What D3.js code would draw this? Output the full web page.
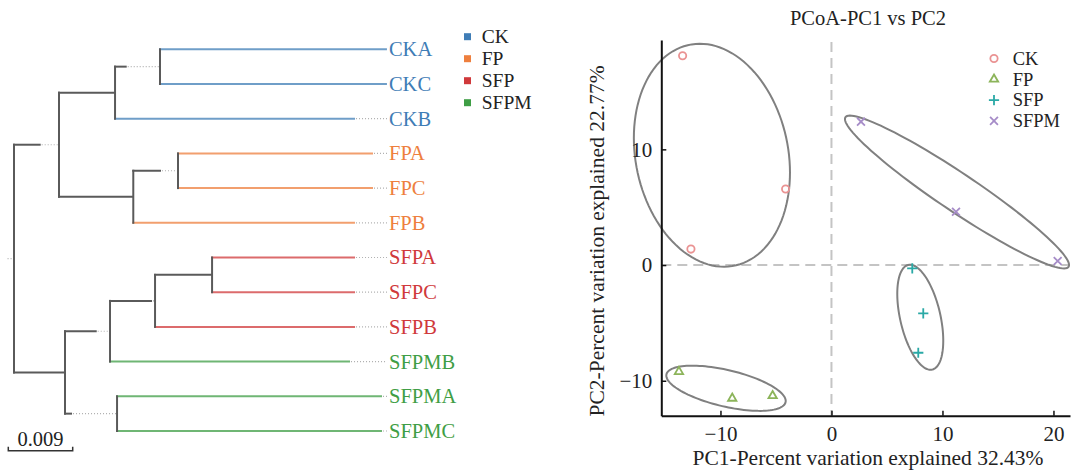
<!DOCTYPE html>
<html>
<head>
<meta charset="utf-8">
<script src="https://cdn.jsdelivr.net/npm/d3@7"></script>
<style>
  body { margin: 0; background: #fff; }
  svg { display: block; }
  svg text { font-family: 'Liberation Serif', 'Times New Roman', Times, serif; }
</style>
</head>
<body>
<svg id="chart" width="1071" height="470"></svg>
<script>
// ---- data ----
// tree: id, parent, branch length, dotted extension (substitutions/site)
var treeRows = [
  ['root', null, 0, 0.0009],
  ['A', 'root', 0.00373, 0.00256],
  ['CK', 'A', 0.00783, 0],
  ['CKsub', 'CK', 0.00163, 0.00465],
  ['CKA', 'CKsub', 0.03172, 0],
  ['CKC', 'CKsub', 0.03172, 0],
  ['CKB', 'CK', 0.03354, 0.00447],
  ['FP', 'A', 0.01038, 0],
  ['FPsub', 'FP', 0.00387, 0.00238],
  ['FPA', 'FPsub', 0.02725, 0.00196],
  ['FPC', 'FPsub', 0.02725, 0.00196],
  ['FPB', 'FP', 0.03098, 0.00447],
  ['B', 'root', 0.00713, 0],
  ['SFPgrp', 'B', 0.00443, 0.00186],
  ['SFPclade', 'SFPgrp', 0.00587, 0.00042],
  ['SFPsub', 'SFPclade', 0.00797, 0],
  ['SFPA', 'SFPsub', 0.01998, 0.00447],
  ['SFPC', 'SFPsub', 0.01998, 0.00447],
  ['SFPB', 'SFPclade', 0.02795, 0.00447],
  ['SFPMB', 'SFPgrp', 0.03354, 0.00517],
  ['SFPMsub', 'B', 0.00098, 0.00629],
  ['SFPMA', 'SFPMsub', 0.03703, 0.0007],
  ['SFPMC', 'SFPMsub', 0.03703, 0.0007]
];
var scaleBarValue = 0.009;

var groups = ['CK', 'FP', 'SFP', 'SFPM'];
var groupColors = ['#3f7db6', '#ee7f3e', '#d0393b', '#3f9e45'];

// PCoA points
var pcGroup = ['CK', 'CK', 'CK', 'FP', 'FP', 'FP', 'SFP', 'SFP', 'SFP', 'SFPM', 'SFPM', 'SFPM'];
var pc1 = [-13.41, -4.13, -12.66, -13.74, -8.94, -5.30, 7.28, 8.27, 7.82, 2.66, 11.22, 20.38];
var pc2 = [18.09, 6.57, 1.38, -9.22, -11.52, -11.30, -0.29, -4.17, -7.58, 12.39, 4.61, 0.35];
// group ellipses: centre, semi-axes, rotation (deg)
var ellCx = [-10.77, -9.50, 8.00, 11.31];
var ellCy = [9.49, -10.65, -4.51, 6.31];
var ellA = [9.76, 5.50, 4.65, 11.95];
var ellB = [6.86, 1.58, 1.81, 1.66];
var ellRot = [-77.1, -12.6, -76.4, -32.7];

var pcColors = ['#ea9393', '#8cb45a', '#2aa9a6', '#a68cc8'];
var xTicks = [-10, 0, 10, 20];
var yTicks = [-10, 0, 10];
var xDomain = [-15.33, 21.49];
var yDomain = [-13.02, 19.45];

var SERIF = "'Liberation Serif', 'Times New Roman', Times, serif";
var svg = d3.select('#chart').attr('font-family', SERIF);
var FONT = 20.5, FONT_AX = 21;

// ---- dendrogram ----
var root = d3.stratify()
  .id(function (d) { return d[0]; })
  .parentId(function (d) { return d[1]; })(treeRows);

var xTree = d3.scaleLinear().domain([0, scaleBarValue]).range([14, 14 + 64.4]);
var leaves = root.leaves();
var yTree = d3.scalePoint().domain(leaves.map(function (d) { return d.id; })).range([49.3, 431]);

function colorOf(name) {
  return groupColors[groups.indexOf(name.slice(0, -1))];
}

root.eachBefore(function (n) {
  n.dist = n.parent ? n.parent.dist + n.data[2] + n.data[3] : 0;
});
root.eachAfter(function (n) {
  if (n.children) {
    n.y = (n.children[0].y + n.children[n.children.length - 1].y) / 2;
  } else {
    n.y = yTree(n.id);
  }
});

var gTree = svg.append('g');

root.each(function (n) {
  if (!n.parent) {
    gTree.append('line')
      .attr('x1', xTree(-n.data[3])).attr('x2', xTree(0))
      .attr('y1', n.y).attr('y2', n.y)
      .attr('stroke', '#b0b0b0').attr('stroke-width', 1.2).attr('stroke-dasharray', '1,2');
    return;
  }
  var x0 = xTree(n.parent.dist),
    x1 = xTree(n.parent.dist + n.data[2]),
    x2 = xTree(n.dist),
    col = n.children ? '#5a5a5a' : colorOf(n.id);
  gTree.append('line')
    .attr('x1', x0 - 1).attr('x2', x1).attr('y1', n.y).attr('y2', n.y)
    .attr('stroke', col).attr('stroke-width', 2)
    .attr('stroke-opacity', n.children ? 1 : 0.75);
  if (n.data[3] > 0) {
    gTree.append('line')
      .attr('x1', x1 + 1).attr('x2', x2).attr('y1', n.y).attr('y2', n.y)
      .attr('stroke', '#b0b0b0').attr('stroke-width', 1.2).attr('stroke-dasharray', '1,2');
  }
});

root.each(function (n) {
  if (!n.children) return;
  gTree.append('line')
    .attr('x1', xTree(n.dist)).attr('x2', xTree(n.dist))
    .attr('y1', n.children[0].y - 1).attr('y2', n.children[n.children.length - 1].y + 1)
    .attr('stroke', '#5a5a5a').attr('stroke-width', 2);
});

gTree.selectAll('text.leaf')
  .data(leaves)
  .enter().append('text')
  .attr('class', 'leaf')
  .attr('x', function (d) { return xTree(d.dist) + 2; })
  .attr('y', function (d) { return d.y; })
  .attr('dy', '0.34em')
  .attr('font-size', FONT)
  .attr('fill', function (d) { return colorOf(d.id); })
  .text(function (d) { return d.id; });

// scale bar
var sbW = xTree(scaleBarValue) - xTree(0);
var sb = gTree.append('g').attr('transform', 'translate(8.3,450.7)');
sb.append('path')
  .attr('d', 'M0,-4V0H' + sbW + 'V-4')
  .attr('fill', 'none').attr('stroke', '#333').attr('stroke-width', 1.5);
sb.append('text')
  .attr('x', sbW / 2).attr('y', -5)
  .attr('text-anchor', 'middle').attr('font-size', FONT).attr('fill', '#222')
  .text(scaleBarValue);

// left legend
var lg = svg.append('g').attr('transform', 'translate(464,36.7)');
groups.forEach(function (g, i) {
  lg.append('rect')
    .attr('x', 0).attr('y', i * 22 - 3.5).attr('width', 7).attr('height', 7)
    .attr('fill', groupColors[i]);
  lg.append('text')
    .attr('x', 17.7).attr('y', i * 22).attr('dy', '0.34em')
    .attr('font-size', 19.5).attr('fill', '#222')
    .text(g);
});

// ---- PCoA ----
var x = d3.scaleLinear().domain(xDomain).range([661.3, 1070]);
var y = d3.scaleLinear().domain(yDomain).range([415.7, 40]);
var gP = svg.append('g');

gP.append('text')
  .attr('x', 868).attr('y', 25).attr('text-anchor', 'middle')
  .attr('font-size', FONT).attr('fill', '#222')
  .text('PCoA-PC1 vs PC2');

// zero lines
gP.append('line')
  .attr('x1', x(0)).attr('x2', x(0)).attr('y1', y(yDomain[1]) + 2).attr('y2', y(yDomain[0]))
  .attr('stroke', '#c4c4c4').attr('stroke-width', 2).attr('stroke-dasharray', '10,6');
gP.append('line')
  .attr('x1', x(xDomain[0])).attr('x2', x(xDomain[1])).attr('y1', y(0)).attr('y2', y(0))
  .attr('stroke', '#c4c4c4').attr('stroke-width', 2).attr('stroke-dasharray', '10,6');

// ellipses
var ellLine = d3.line();
groups.forEach(function (g, i) {
  var rot = ellRot[i] * Math.PI / 180, pts = [];
  for (var k = 0; k <= 120; k++) {
    var t = k / 120 * 2 * Math.PI;
    var dx = ellA[i] * Math.cos(t), dy = ellB[i] * Math.sin(t);
    pts.push([
      x(ellCx[i] + dx * Math.cos(rot) - dy * Math.sin(rot)),
      y(ellCy[i] + dx * Math.sin(rot) + dy * Math.cos(rot))
    ]);
  }
  gP.append('path')
    .attr('d', ellLine(pts) + 'Z')
    .attr('fill', 'none').attr('stroke', '#808080').attr('stroke-width', 2);
});

// axes
var xAxis = gP.append('g')
  .attr('transform', 'translate(0,' + y(yDomain[0]) + ')')
  .call(d3.axisBottom(x).tickValues(xTicks).tickSizeInner(-5).tickSizeOuter(0).tickPadding(10));
var yAxis = gP.append('g')
  .attr('transform', 'translate(' + x(xDomain[0]) + ',0)')
  .call(d3.axisLeft(y).tickValues(yTicks).tickSizeInner(-5).tickSizeOuter(0).tickPadding(9));
[xAxis, yAxis].forEach(function (a) {
  a.attr('font-family', SERIF).attr('font-size', FONT_AX);
  a.select('.domain').attr('stroke', '#111').attr('stroke-width', 2);
  a.selectAll('.tick line').attr('stroke', '#111').attr('stroke-width', 1.5);
  a.selectAll('.tick text').attr('fill', '#222');
});

gP.append('text')
  .attr('x', 868).attr('y', 465).attr('text-anchor', 'middle')
  .attr('font-size', 21.5).attr('fill', '#222')
  .text('PC1-Percent variation explained 32.43%');
gP.append('text')
  .attr('transform', 'translate(604,241) rotate(-90)')
  .attr('text-anchor', 'middle')
  .attr('font-size', 21.5).attr('fill', '#222')
  .text('PC2-Percent variation explained 22.77%');

// markers
var shapes = [
  d3.symbol(d3.symbolCircle, 42),
  d3.symbol(d3.symbolTriangle2 || d3.symbolTriangle, 50),
  d3.symbol(d3.symbolPlus || d3.symbolCross, 36),
  d3.symbol(d3.symbolTimes || d3.symbolCross, 42)
];

gP.selectAll('path.pt')
  .data(pc1)
  .enter().append('path')
  .attr('class', 'pt')
  .attr('transform', function (d, i) { return 'translate(' + x(d) + ',' + y(pc2[i]) + ')'; })
  .attr('d', function (d, i) { return shapes[groups.indexOf(pcGroup[i])](); })
  .attr('fill', 'none')
  .attr('stroke', function (d, i) { return pcColors[groups.indexOf(pcGroup[i])]; })
  .attr('stroke-width', 1.8);

// right legend
var rl = gP.append('g').attr('transform', 'translate(994,58.5)');
groups.forEach(function (g, i) {
  rl.append('path')
    .attr('transform', 'translate(0,' + (i * 20.8) + ')')
    .attr('d', shapes[i]())
    .attr('fill', 'none').attr('stroke', pcColors[i]).attr('stroke-width', 1.8);
  rl.append('text')
    .attr('x', 18.7).attr('y', i * 20.8).attr('dy', '0.34em')
    .attr('font-size', 18.5).attr('fill', '#222')
    .text(g);
});
</script>
</body>
</html>
